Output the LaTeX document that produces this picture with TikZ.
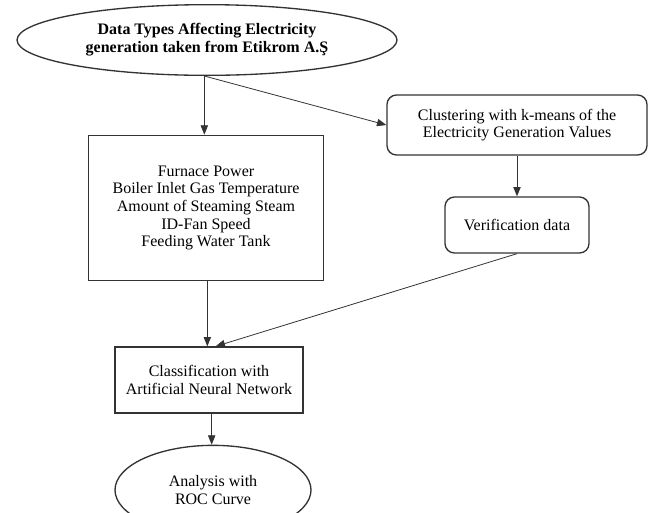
\documentclass[tikz,border=0pt]{standalone}
\usepackage{fontspec}
\setmainfont{Liberation Serif}
\usepackage{xcolor}
\usepackage{tikz}
\usetikzlibrary{arrows.meta,positioning,shapes.geometric,calc}
\definecolor{edge}{HTML}{333333}
\tikzset{
  source/.style={draw=edge, line width=1pt, ellipse, align=center, inner sep=0pt, minimum width=285pt, minimum height=53pt, font=\fontsize{12}{13.5}\selectfont\bfseries},
  result/.style={draw=edge, line width=1pt, ellipse, align=center, inner sep=0pt, minimum width=147pt, minimum height=67pt, font=\fontsize{12}{13}\selectfont},
  stepbox/.style={draw=edge, line width=1pt, align=center, inner sep=2pt, font=\fontsize{12}{13.2}\selectfont},
  roundbox/.style={stepbox, rounded corners=2.5mm},
  flow/.style={-{Triangle[length=7pt,width=5.5pt]}, line width=0.6pt, draw=edge},
}

\begin{document}
\begin{tikzpicture}[x=0.75pt,y=0.75pt]
  \useasboundingbox (0,0) rectangle (649,-512);
  \node[source] (src) at (207,-40) {Data Types Affecting Electricity\\generation taken from Etikrom A.Ş};
  \node[roundbox, minimum width=195pt, minimum height=45pt] (clu) at (517,-125) {Clustering with k-means of the\\Electricity Generation Values};
  \node[roundbox, minimum width=108pt, minimum height=42pt] (ver) at (517,-225) {Verification data};
  \node[stepbox, minimum width=176pt, minimum height=109pt] (inp) at (206,-208) {Furnace Power\\Boiler Inlet Gas Temperature\\Amount of Steaming Steam\\ID-Fan Speed\\Feeding Water Tank};
  \node[stepbox, minimum width=141pt, minimum height=49.5pt] (cls) at (209,-380) {Classification with\\Artificial Neural Network};
  \node[result] (roc) at (213,-490) {Analysis with\\ROC Curve};
  % connectors
  \draw[flow] ([xshift=-2pt]src.south) -- ([xshift=-2pt]src.south |- inp.north);
  \draw[flow] ([xshift=-2pt]src.south) -- (clu.west);
  \draw[flow] (clu.south) -- (ver.north);
  \draw[flow] (ver.south) -- ([xshift=5pt]cls.north);
  \draw[flow] ([xshift=1pt]inp.south) -- ([xshift=1pt]inp.south |- cls.north);
  \draw[flow] ([xshift=2pt]cls.south) -- ([xshift=2pt]cls.south |- roc.north);
\end{tikzpicture}
\end{document}
